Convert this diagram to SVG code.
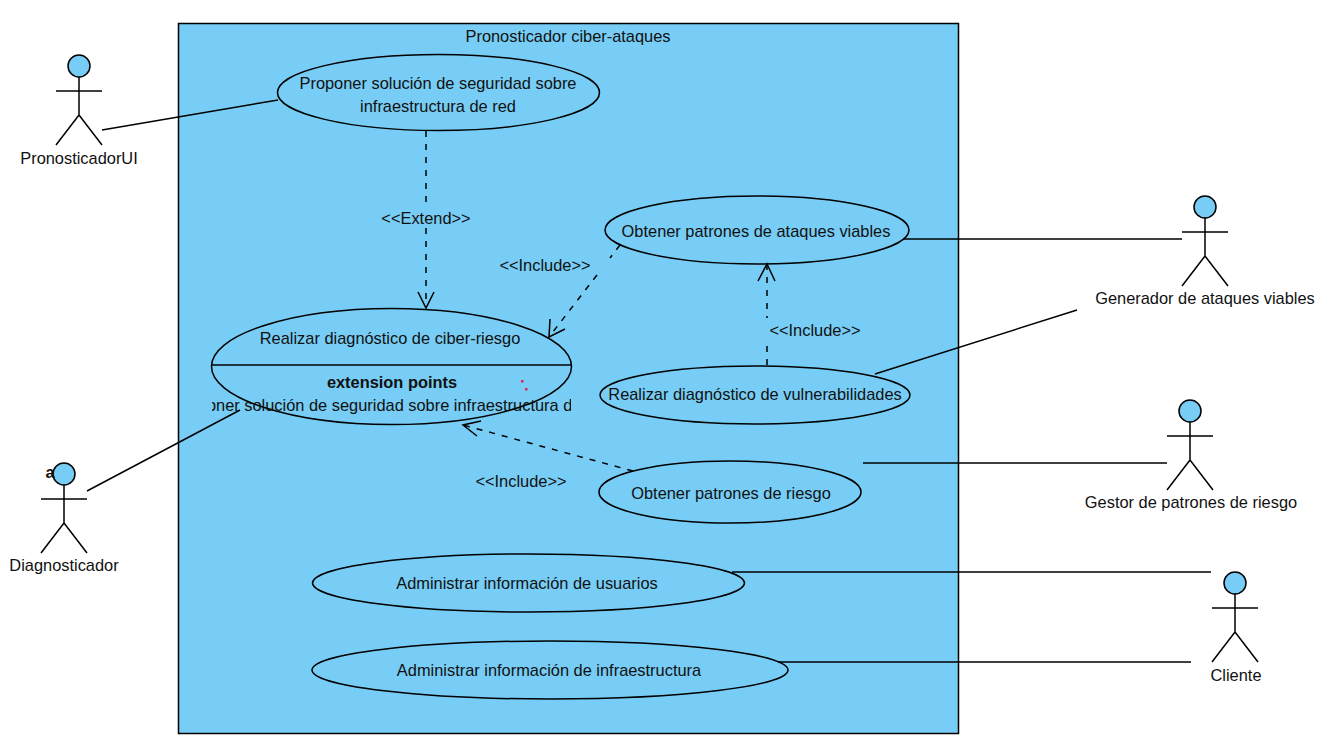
<svg xmlns="http://www.w3.org/2000/svg" width="1331" height="754" viewBox="0 0 1331 754">
<style>
text{font-family:"Liberation Sans",Arial,sans-serif;font-size:16.4px;fill:#111;text-anchor:middle}
.s{fill:#77CDF5;stroke:#000;stroke-width:1.5}
.l{fill:none;stroke:#000;stroke-width:1.5}
.d{fill:none;stroke:#000;stroke-width:1.5;stroke-dasharray:6 7}
</style>
<defs>
<clipPath id="ec"><rect x="212" y="390" width="359" height="30"/></clipPath>
<g id="actor"><circle class="s" cx="0" cy="0" r="11"/><path class="l" d="M0 11V49M-23 25H23M0 49L-23 79M0 49L23 79"/></g>
</defs>
<rect width="1331" height="754" fill="#fff"/>
<g id="system"><rect class="s" x="178.500" y="23.500" width="780" height="710"/><text x="568" y="41.500">Pronosticador ciber-ataques</text></g>
<g id="uc-proponer"><ellipse class="s" cx="438.500" cy="92.500" rx="161" ry="38"/><text x="438" y="88.500">Proponer solución de seguridad sobre</text><text x="438" y="111.500">infraestructura de red</text></g>
<g id="uc-diagnostico"><ellipse class="s" cx="391.500" cy="366.500" rx="180" ry="58"/><path class="l" d="M212 365H571"/><text x="390" y="343.500">Realizar diagnóstico de ciber-riesgo</text><text x="392" y="388" font-weight="bold">extension points</text><text x="391" y="411" clip-path="url(#ec)">Proponer solución de seguridad sobre infraestructura de red</text><path d="M521 380h2.500v2.500h-2.500zM525 388h2.500v2.500h-2.500z" fill="#e0245e"/></g>
<g id="uc-ataques"><ellipse class="s" cx="757" cy="230" rx="152" ry="34"/><text x="756" y="237">Obtener patrones de ataques viables</text></g>
<g id="uc-vulnerabilidades"><ellipse class="s" cx="755" cy="395" rx="155" ry="29"/><text x="755" y="400">Realizar diagnóstico de vulnerabilidades</text></g>
<g id="uc-riesgo"><ellipse class="s" cx="730" cy="492" rx="131" ry="31"/><text x="731" y="499">Obtener patrones de riesgo</text></g>
<g id="uc-usuarios"><ellipse class="s" cx="528.500" cy="583" rx="216" ry="29"/><text x="527" y="589">Administrar información de usuarios</text></g>
<g id="uc-infra"><ellipse class="s" cx="550" cy="670" rx="238" ry="29"/><text x="549" y="676">Administrar información de infraestructura</text></g>
<g id="connectors">
<path class="l" d="M102 130L278 100M87 491L240 410M904 239H1182M875 374L1077 310M863 463H1167M732 572H1211M778 662H1191"/>
<path class="d" d="M426 131V205M426 228V308"/><path class="l" d="M418 292L426 308L434 292"/>
<path class="d" d="M620 245L610 258M597 275L549 337"/><path class="l" d="M550 319L549 337L565 329"/>
<path class="d" d="M767 264V318M767 346V365"/><path class="l" d="M758 281L767 264L775 281"/>
<path class="d" d="M633 471L463 425"/><path class="l" d="M481 421L463 425L477 436"/>
<text x="426" y="224">&lt;&lt;Extend&gt;&gt;</text>
<text x="545" y="271">&lt;&lt;Include&gt;&gt;</text>
<text x="815" y="336">&lt;&lt;Include&gt;&gt;</text>
<text x="521" y="487">&lt;&lt;Include&gt;&gt;</text>
</g>
<g id="actor-pronosticador"><use href="#actor" x="79" y="66"/><text x="79" y="164">PronosticadorUI</text></g>
<g id="actor-diagnosticador"><use href="#actor" x="64" y="474"/><text x="50" y="478" font-weight="bold">a</text><text x="64" y="571">Diagnosticador</text></g>
<g id="actor-generador"><use href="#actor" x="1205" y="207"/><text x="1205" y="304">Generador de ataques viables</text></g>
<g id="actor-gestor"><use href="#actor" x="1190" y="411"/><text x="1191" y="508">Gestor de patrones de riesgo</text></g>
<g id="actor-cliente"><use href="#actor" x="1235" y="583"/><text x="1236" y="681">Cliente</text></g>
</svg>
